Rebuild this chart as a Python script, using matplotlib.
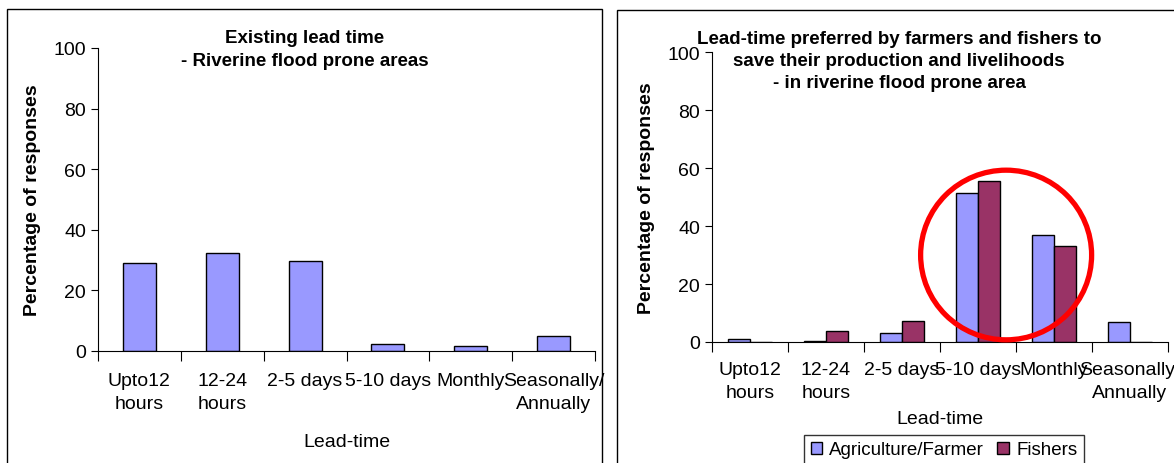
import numpy as np
import matplotlib.pyplot as plt
from matplotlib.patches import Rectangle, Ellipse

plt.rcParams['font.family'] = ['Liberation Sans', 'DejaVu Sans']

categories = ['Upto12\nhours', '12-24\nhours', '2-5 days', '5-10 days', 'Monthly', 'Seasonally/\nAnnually']
existing = [29.1, 32.4, 29.7, 2.2, 1.5, 4.8]
farmers = [0.9, 0.5, 3.2, 51.4, 36.9, 6.8]
fishers = [0.0, 3.7, 7.4, 55.5, 33.1, 0.0]

agri_color = '#9999FF'
fish_color = '#993366'


def style_axis(ax, pad, spacing):
    n = len(categories)
    ax.set_xlim(-0.5, n - 0.5)
    ax.set_ylim(0, 100)
    ax.set_yticks([0, 20, 40, 60, 80, 100])
    ax.set_xticks(np.arange(n + 1) - 0.5)
    ax.set_xticklabels([])
    ax.set_xticks(np.arange(n), minor=True)
    ax.set_xticklabels(categories, minor=True, fontsize=14)
    for lab in ax.get_xticklabels(minor=True):
        lab.set_linespacing(spacing)
    ax.tick_params(axis='x', which='major', length=7, direction='out', width=0.8)
    ax.tick_params(axis='x', which='minor', length=0, pad=pad)
    ax.tick_params(axis='y', length=5, labelsize=14, width=0.8)
    for s in ['top', 'right']:
        ax.spines[s].set_visible(False)
    for s in ['left', 'bottom']:
        ax.spines[s].set_linewidth(0.8)
    ax.set_ylabel('Percentage of responses', fontsize=14, fontweight='bold')
    ax.set_xlabel('Lead-time', fontsize=14)


def main():
    fig = plt.figure(figsize=(11.74, 4.64), dpi=100)

    # panel frames
    fig.patches.append(Rectangle((7 / 1174, -0.1), 595 / 1174, 1 - 10 / 464 + 0.1,
                                 transform=fig.transFigure, fill=False, lw=1, ec='black'))
    fig.patches.append(Rectangle((617 / 1174, -0.1), 0.5, 1 - 11 / 464 + 0.1,
                                 transform=fig.transFigure, fill=False, lw=1, ec='black'))

    x = np.arange(len(categories))

    ax1 = fig.add_axes([98 / 1174, 1 - 352 / 464, 497 / 1174, 303 / 464])
    ax1.bar(x, existing, width=0.4, color=agri_color, edgecolor='black', linewidth=1.0)
    style_axis(ax1, pad=15, spacing=1.45)
    ax1.yaxis.labelpad = 9
    ax1.xaxis.labelpad = 15
    fig.text(305 / 1174, 1 - 50 / 464, 'Existing lead time\n- Riverine flood prone areas',
             ha='center', va='center', fontsize=13.5, fontweight='bold', linespacing=1.47)

    ax2 = fig.add_axes([712 / 1174, 1 - 343 / 464, 456 / 1174, 290 / 464])
    w = 0.29
    ax2.bar(x - w / 2, farmers, width=w, color=agri_color, edgecolor='black',
            linewidth=1.0, label='Agriculture/Farmer')
    ax2.bar(x + w / 2, fishers, width=w, color=fish_color, edgecolor='black',
            linewidth=1.0, label='Fishers')
    style_axis(ax2, pad=14, spacing=1.45)
    ax2.yaxis.labelpad = 9
    ax2.xaxis.labelpad = 6
    fig.text(899 / 1174, 1 - 61.5 / 464,
             'Lead-time preferred by farmers and fishers to\nsave their production and livelihoods\n- in riverine flood prone area',
             ha='center', va='center', fontsize=13.5, fontweight='bold', linespacing=1.39)

    circle = Ellipse((3.37, 30), width=2.25, height=58.5, fill=False, ec='#FF0000',
                     lw=3.8, clip_on=False, zorder=5)
    ax2.add_patch(circle)

    leg = fig.legend(loc='center', bbox_to_anchor=(944 / 1174, 1 - 451 / 464), ncol=2,
                     fontsize=13.5, frameon=True, fancybox=False, edgecolor='black',
                     handlelength=0.6, handleheight=0.6, handletextpad=0.4,
                     columnspacing=0.7, borderpad=0.35)
    leg.get_frame().set_linewidth(1.0)

    fig.savefig('out.png', dpi=100)


if __name__ == '__main__':
    main()
